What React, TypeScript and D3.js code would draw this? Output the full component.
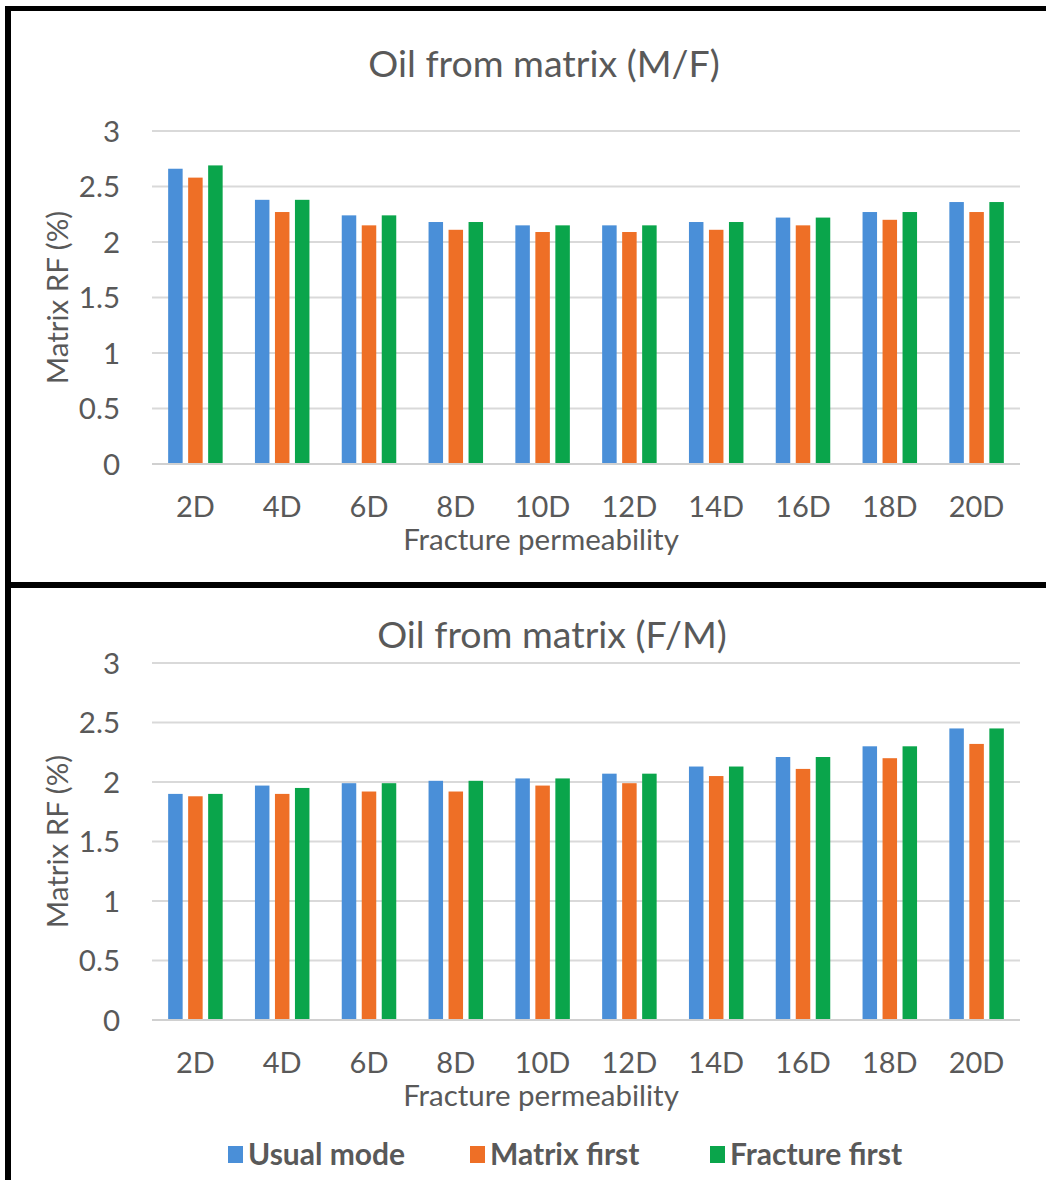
import React from "react";
import * as d3 from "d3";

const categories = ["2D", "4D", "6D", "8D", "10D", "12D", "14D", "16D", "18D", "20D"];
const seriesNames = ["Usual mode", "Matrix first", "Fracture first"];
const seriesColors = ["#4A8FD8", "#EE6F26", "#0AA54B"];
const yTicks = [0, 0.5, 1, 1.5, 2, 2.5, 3];
const yTickLabels = ["0", "0.5", "1", "1.5", "2", "2.5", "3"];

const mfUsual = [2.66, 2.38, 2.24, 2.18, 2.15, 2.15, 2.18, 2.22, 2.27, 2.36];
const mfMatrix = [2.58, 2.27, 2.15, 2.11, 2.09, 2.09, 2.11, 2.15, 2.2, 2.27];
const mfFracture = [2.69, 2.38, 2.24, 2.18, 2.15, 2.15, 2.18, 2.22, 2.27, 2.36];

const fmUsual = [1.9, 1.97, 1.99, 2.01, 2.03, 2.07, 2.13, 2.21, 2.3, 2.45];
const fmMatrix = [1.88, 1.9, 1.92, 1.92, 1.97, 1.99, 2.05, 2.11, 2.2, 2.32];
const fmFracture = [1.9, 1.95, 1.99, 2.01, 2.03, 2.07, 2.13, 2.21, 2.3, 2.45];

const FONT = "Lato, 'Noto Sans', sans-serif";
const TEXT = "#595959";

type ChartProps = {
  title: string;
  titleX: number;
  titleY: number;
  top: number;
  bottom: number;
  series: number[][];
};

function Chart({ title, titleX, titleY, top, bottom, series }: ChartProps) {
  const left = 152;
  const right = 1020;
  const x = d3.scaleBand<string>().domain(categories).range([left, right]).padding(0);
  const x1 = d3
    .scaleBand<string>()
    .domain(seriesNames)
    .range([-27.25, 27.25])
    .paddingInner(0.275)
    .paddingOuter(0);
  const y = d3.scaleLinear().domain([0, 3]).range([bottom, top]);

  return (
    <g>
      <text x={titleX} y={titleY} textAnchor="middle" fontFamily={FONT} fontSize={37.5} fill={TEXT}>
        {title}
      </text>
      {yTicks.map((t, i) => (
        <g key={t}>
          <line x1={left} x2={right} y1={y(t)} y2={y(t)} stroke="#d9d9d9" strokeWidth={2} />
          <text
            x={120}
            y={y(t)}
            dy="0.36em"
            textAnchor="end"
            fontFamily={FONT}
            fontSize={29.5}
            fill={TEXT}
          >
            {yTickLabels[i]}
          </text>
        </g>
      ))}
      {categories.map((c, ci) => {
        const cx = (x(c) as number) + x.bandwidth() / 2;
        return (
          <g key={c}>
            {seriesNames.map((s, si) => {
              const v = series[si][ci];
              const bx = cx + (x1(s) as number);
              return (
                <rect
                  key={s}
                  x={bx}
                  y={y(v)}
                  width={x1.bandwidth()}
                  height={y(0) - y(v)}
                  fill={seriesColors[si]}
                />
              );
            })}
            <text
              x={cx}
              y={bottom + 53}
              textAnchor="middle"
              fontFamily={FONT}
              fontSize={29}
              fill={TEXT}
            >
              {c}
            </text>
          </g>
        );
      })}
      <line x1={left} x2={right} y1={y(0)} y2={y(0)} stroke="#d0d0d0" strokeWidth={2} />
      <text
        x={541}
        y={bottom + 86}
        textAnchor="middle"
        fontFamily={FONT}
        fontSize={29.5}
        fill={TEXT}
      >
        Fracture permeability
      </text>
      <text
        transform={`translate(68, ${(top + bottom) / 2}) rotate(-90)`}
        textAnchor="middle"
        fontFamily={FONT}
        fontSize={29.5}
        fill={TEXT}
      >
        Matrix RF (%)
      </text>
    </g>
  );
}

export default function App() {
  const legendX = [228, 470, 710];
  return (
    <div style={{ position: "absolute", left: 0, top: 0 }}>
      <svg width={1046} height={1180} style={{ display: "block", background: "#fff" }}>
        <rect x={0} y={0} width={1046} height={1180} fill="#fff" />
        <Chart
          title="Oil from matrix (M/F)"
          titleX={544}
          titleY={77}
          top={131}
          bottom={464}
          series={[mfUsual, mfMatrix, mfFracture]}
        />
        <Chart
          title="Oil from matrix (F/M)"
          titleX={552}
          titleY={648}
          top={663}
          bottom={1020}
          series={[fmUsual, fmMatrix, fmFracture]}
        />
        {seriesNames.map((s, i) => (
          <g key={s}>
            <rect x={legendX[i]} y={1146} width={15} height={17} fill={seriesColors[i]} />
            <text
              x={legendX[i] + 20}
              y={1165}
              fontFamily={FONT}
              fontWeight="bold"
              fontSize={30}
              fill={TEXT}
            >
              {s}
            </text>
          </g>
        ))}
        {/* frame */}
        <line x1={5} x2={1046} y1={8.5} y2={8.5} stroke="#000" strokeWidth={5} />
        <line x1={8} x2={8} y1={6} y2={1180} stroke="#000" strokeWidth={6} />
        <line x1={5} x2={1046} y1={585} y2={585} stroke="#000" strokeWidth={6} />
      </svg>
    </div>
  );
}
